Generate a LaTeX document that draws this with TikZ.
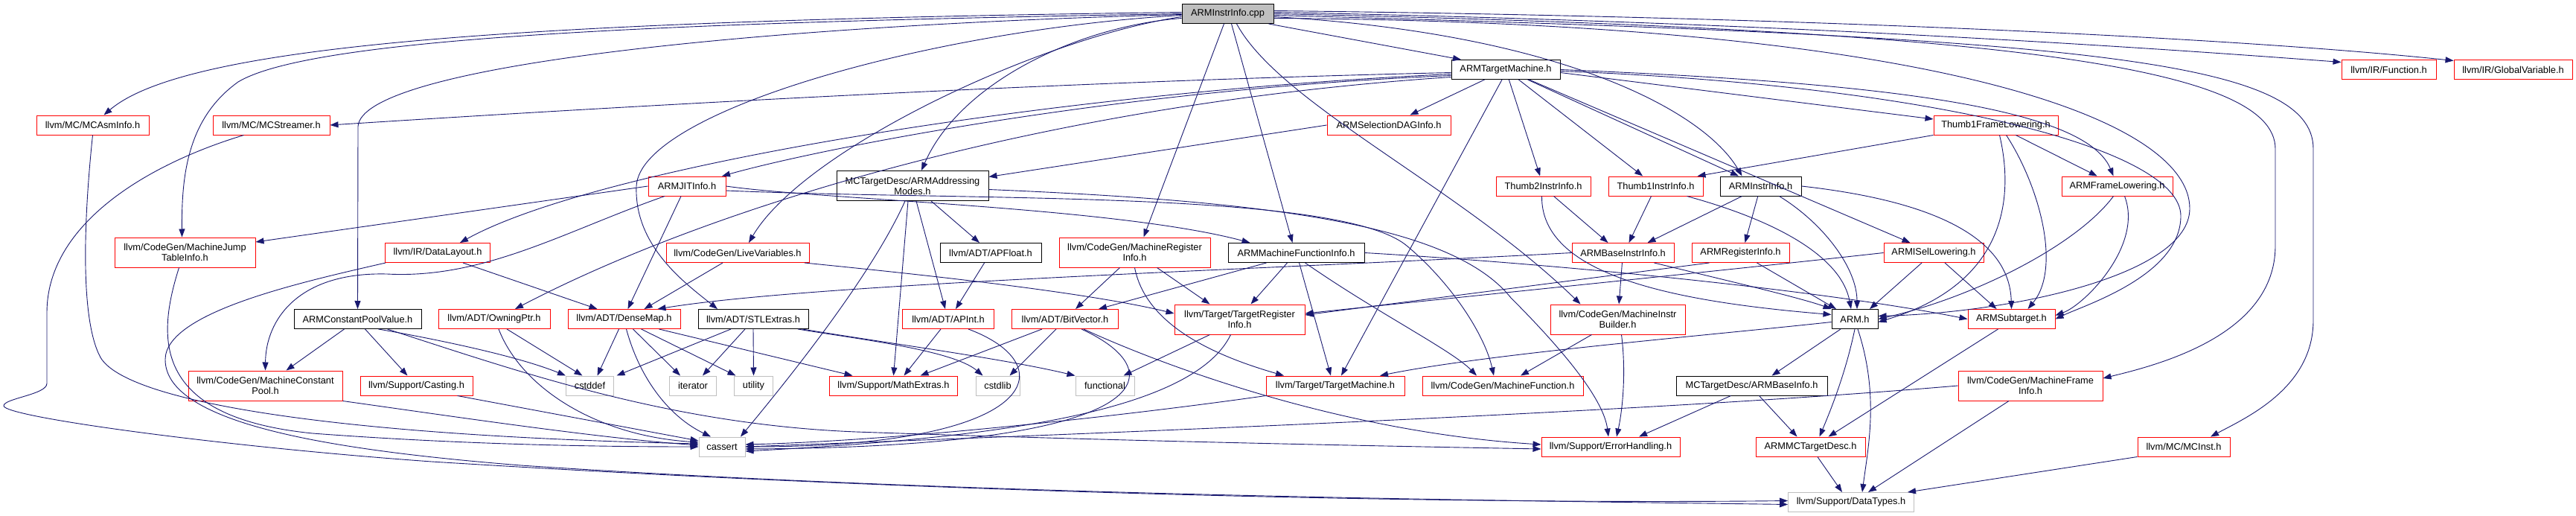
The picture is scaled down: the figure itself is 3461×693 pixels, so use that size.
\documentclass[tikz,border=0pt]{standalone}
\usepackage{fontspec}
\setmainfont{Liberation Sans}
\usetikzlibrary{arrows.meta}
\definecolor{edgeblue}{HTML}{191970}
\definecolor{sysgray}{HTML}{BFBFBF}
\definecolor{rootgray}{HTML}{BFBFBF}
\tikzset{
 nd/.style={rectangle, inner sep=0pt, line width=1pt, align=center, font=\fontsize{12.8}{14}\selectfont, minimum height=26},
 rednd/.style={nd, draw=red},
 blk/.style={nd, draw=black},
 sys/.style={nd, draw=sysgray},
 rootnd/.style={nd, draw=black, fill=rootgray},
 tall/.style={minimum height=40},
 e/.style={draw=edgeblue, line width=0.9pt, -{Triangle[length=11pt,width=8pt]}},
}
\begin{document}
\begin{tikzpicture}[x=1pt,y=-1pt]
\useasboundingbox[fill=white] (0,0) rectangle (3461,693);
% ---------- nodes ----------
\node[rootnd, minimum width=123] (cpp) at (1649.5,18.5) {ARMInstrInfo.cpp};
\node[blk, minimum width=146] (atm) at (2023,93.5) {ARMTargetMachine.h};
\node[rednd, minimum width=127] (fun) at (3209.5,93.5) {llvm/IR/Function.h};
\node[rednd, minimum width=159] (gv) at (3376.5,93.5) {llvm/IR/GlobalVariable.h};
\node[rednd, minimum width=151] (mcasm) at (124.5,168) {llvm/MC/MCAsmInfo.h};
\node[rednd, minimum width=157] (mcstr) at (364.5,168) {llvm/MC/MCStreamer.h};
\node[rednd, minimum width=166] (sdag) at (1866,168) {ARMSelectionDAGInfo.h};
\node[rednd, minimum width=167] (t1fl) at (2681.5,168) {Thumb1FrameLowering.h};
\node[rednd, minimum width=104] (jit) at (923,250) {ARMJITInfo.h};
\node[blk, tall, minimum width=204] (am) at (1226,249.5) {MCTargetDesc/ARMAddressing\\Modes.h};
\node[rednd, minimum width=127] (t2ii) at (2073.5,250) {Thumb2InstrInfo.h};
\node[rednd, minimum width=127] (t1ii) at (2224.5,250) {Thumb1InstrInfo.h};
\node[blk, minimum width=109] (aii) at (2365.5,250) {ARMInstrInfo.h};
\node[rednd, minimum width=149] (afl) at (2844.5,250) {ARMFrameLowering.h};
\node[rednd, tall, minimum width=189] (mjti) at (248.5,339) {llvm/CodeGen/MachineJump\\TableInfo.h};
\node[rednd, minimum width=141] (dl) at (588,339.5) {llvm/IR/DataLayout.h};
\node[rednd, minimum width=192] (lv) at (991,339.5) {llvm/CodeGen/LiveVariables.h};
\node[blk, minimum width=136] (apf) at (1331,339.5) {llvm/ADT/APFloat.h};
\node[rednd, tall, minimum width=203] (mri) at (1524.5,339) {llvm/CodeGen/MachineRegister\\Info.h};
\node[blk, minimum width=183] (amfi) at (1741.5,339.5) {ARMMachineFunctionInfo.h};
\node[rednd, minimum width=137] (abii) at (2180.5,339.5) {ARMBaseInstrInfo.h};
\node[rednd, minimum width=131] (ari) at (2338.5,339.5) {ARMRegisterInfo.h};
\node[rednd, minimum width=134] (aisl) at (2598,339.5) {ARMISelLowering.h};
\node[blk, minimum width=171] (acpv) at (480.5,428.5) {ARMConstantPoolValue.h};
\node[rednd, minimum width=150] (own) at (664,428.5) {llvm/ADT/OwningPtr.h};
\node[rednd, minimum width=151] (dm) at (838.5,428.5) {llvm/ADT/DenseMap.h};
\node[blk, minimum width=148] (stl) at (1012,428.5) {llvm/ADT/STLExtras.h};
\node[rednd, minimum width=123] (apint) at (1274,428.5) {llvm/ADT/APInt.h};
\node[rednd, minimum width=143] (bv) at (1431,428.5) {llvm/ADT/BitVector.h};
\node[rednd, tall, minimum width=175] (tri) at (1665.5,429) {llvm/Target/TargetRegister\\Info.h};
\node[rednd, tall, minimum width=181] (mib) at (2173.5,429) {llvm/CodeGen/MachineInstr\\Builder.h};
\node[blk, minimum width=62] (armh) at (2492,428.5) {ARM.h};
\node[rednd, minimum width=117] (ast) at (2702.5,428.5) {ARMSubtarget.h};
\node[rednd, tall, minimum width=207] (mcp) at (356.5,518) {llvm/CodeGen/MachineConstant\\Pool.h};
\node[rednd, minimum width=151] (cast) at (559.5,518) {llvm/Support/Casting.h};
\node[sys, minimum width=64] (cstddef) at (792.5,518) {cstddef};
\node[sys, minimum width=63] (iter) at (931,518) {iterator};
\node[sys, minimum width=52] (util) at (1012.5,518) {utility};
\node[rednd, minimum width=172] (mathx) at (1200.5,518) {llvm/Support/MathExtras.h};
\node[sys, minimum width=59] (cstdlib) at (1340.5,518) {cstdlib};
\node[sys, minimum width=79] (func) at (1484.5,518) {functional};
\node[rednd, minimum width=186] (tm) at (1794,518) {llvm/Target/TargetMachine.h};
\node[rednd, minimum width=216] (mf) at (2019,518) {llvm/CodeGen/MachineFunction.h};
\node[blk, minimum width=203] (abi) at (2353.5,518) {MCTargetDesc/ARMBaseInfo.h};
\node[rednd, tall, minimum width=194] (mfi) at (2728,518) {llvm/CodeGen/MachineFrame\\Info.h};
\node[sys, minimum width=62] (cassert) at (970,600) {cassert};
\node[rednd, minimum width=186] (eh) at (2164,600) {llvm/Support/ErrorHandling.h};
\node[rednd, minimum width=147] (amcd) at (2432.5,600) {ARMMCTargetDesc.h};
\node[rednd, minimum width=124] (mcinst) at (2934,600) {llvm/MC/MCInst.h};
\node[sys, minimum width=169] (dt) at (2487,674.5) {llvm/Support/DataTypes.h};
% ---------- edges from ARMInstrInfo.cpp ----------
\draw[e] ([yshift=2pt]cpp.west) .. controls (700,28) and (250,60) .. ([xshift=15pt]mcasm.north);
\draw[e] (cpp.west) .. controls (900,30) and (420,50) .. (320,110) .. controls (250,160) and (244,240) .. ([xshift=-4pt]mjti.north);
\draw[e] ([yshift=-1pt]cpp.west) .. controls (1000,35) and (485,90) .. (481,170) -- (acpv.north);
\draw[e] ([yshift=-4pt]cpp.west) .. controls (1400,50) and (1080,200) .. ([xshift=15pt]lv.north);
\draw[e] ([yshift=-2pt]cpp.west) .. controls (1250,40) and (860,150) .. (855,250) .. controls (852,330) and (920,380) .. ([xshift=-48pt]stl.north);
\draw[e] ([yshift=-6pt]cpp.west) .. controls (1450,35) and (1290,110) .. ([xshift=12pt]am.north);
\draw[e] ([xshift=-5pt]cpp.south) -- ([xshift=12pt]mri.north);
\draw[e] ([xshift=5pt]cpp.south) -- ([xshift=-5pt]amfi.north);
\draw[e] ([xshift=55pt]cpp.south) -- ([xshift=-60pt]atm.north);
\draw[e] ([xshift=12pt]cpp.south) .. controls (1720,140) and (1960,250) .. ([xshift=-50pt]mib.north);
\draw[e] ([yshift=-4pt]cpp.east) .. controls (2100,45) and (2290,150) .. ([xshift=-25pt]aii.north);
\draw[e] ([yshift=2pt]cpp.east) .. controls (2400,30) and (2900,65) .. ([yshift=10pt]fun.west);
\draw[e] ([yshift=4pt]cpp.east) .. controls (2400,22) and (3000,50) .. ([yshift=12pt]gv.west);
\draw[e] (cpp.east) .. controls (2700,40) and (3057,90) .. (3057,200) -- (3057,330) .. controls (3057,450) and (2900,490) .. ([yshift=10pt]mfi.east);
\draw[e] ([yshift=-2pt]cpp.east) .. controls (2800,50) and (3108,80) .. (3108,200) -- (3108,430) .. controls (3108,520) and (3020,560) .. ([xshift=36pt]mcinst.north);
\draw[e] ([yshift=-6pt]cpp.east) .. controls (2600,30) and (2942,160) .. (2942,280) .. controls (2942,370) and (2700,420) .. ([yshift=4pt]armh.east);
% ---------- ARMTargetMachine.h ----------
\draw[e] ([yshift=-4pt]atm.west) .. controls (1400,110) and (800,145) .. (mcstr.east);
\draw[e] ([yshift=-8pt]atm.west) .. controls (1500,120) and (1100,200) .. ([xshift=47pt]jit.north);
\draw[e] ([yshift=-6pt]atm.west) .. controls (1400,125) and (800,225) .. ([xshift=30pt]dl.north);
\draw[e] ([yshift=-10pt]atm.west) .. controls (1400,140) and (950,280) .. ([xshift=28pt]own.north);
\draw[e] ([xshift=-5pt]atm.south) -- ([xshift=8pt]tm.north);
\draw[e] (atm) -- (sdag);
\draw[e] (atm) -- (t2ii);
\draw[e] (atm) -- (t1ii);
\draw[e] (atm) -- (aii);
\draw[e] (atm) -- (aisl);
\draw[e] ([yshift=-4pt]atm.east) -- ([yshift=8pt]t1fl.west);
\draw[e] (atm.east) .. controls (2500,110) and (2800,140) .. ([xshift=-5pt]afl.north);
\draw[e] ([yshift=-2pt]atm.east) .. controls (2600,115) and (2930,200) .. (2930,290) .. controls (2930,370) and (2800,410) .. (ast.east);
% ---------- level 2 ----------
\draw[e] (sdag.west) -- ([yshift=12pt]am.east);
\draw[e] (t1fl.south west) -- ([xshift=-8pt]t1ii.north east);
\draw[e] (t1fl) -- (afl);
\draw[e] ([xshift=5pt]t1fl.south) .. controls (2705,260) and (2700,380) .. ([yshift=-4pt]armh.east);
\draw[e] ([xshift=14pt]t1fl.south) .. controls (2740,250) and (2770,360) .. ([xshift=22pt]ast.north);
\draw[e] ([xshift=-5pt]afl.south) .. controls (2790,330) and (2650,400) .. (armh.east);
\draw[e] ([xshift=10pt]afl.south) .. controls (2880,330) and (2800,410) .. ([yshift=5pt]ast.east);
% ARMJITInfo.h
\draw[e] (jit.west) -- ([yshift=14pt]mjti.east);
\draw[e] ([xshift=-30pt]jit.south) .. controls (760,310) and (650,375) .. (520,368) .. controls (400,365) and (357,430) .. (mcp.north);
\draw[e] ([xshift=-8pt]jit.south) -- ([xshift=5pt]dm.north);
\draw[e] (jit.east) .. controls (1100,268) and (1500,278) .. ([xshift=-62pt]amfi.north);
\draw[e] ([yshift=-6pt]jit.east) .. controls (1300,270) and (1800,255) .. (1890,330) .. controls (1950,380) and (1995,450) .. ([xshift=-12pt]mf.north);
% ARMAddressingModes.h
\draw[e] ([xshift=-10pt]am.south) .. controls (1180,350) and (1100,460) .. ([xshift=25pt]cassert.north);
\draw[e] ([xshift=-6pt]am.south) -- (mathx.north);
\draw[e] ([xshift=5pt]am.south) -- ([xshift=-4pt]apint.north);
\draw[e] ([xshift=25pt]am.south) -- ([xshift=-15pt]apf.north);
\draw[e] ([yshift=-5pt]am.east) .. controls (1700,270) and (1950,300) .. (2030,400) .. controls (2110,480) and (2155,540) .. ([xshift=-3pt]eh.north);
% APFloat / APInt / BitVector
\draw[e] (apf) -- ([xshift=10pt]apint.north);
\draw[e] ([xshift=-10pt]apint.south) -- ([xshift=14pt]mathx.north);
\draw[e] ([xshift=27pt]apint.south) .. controls (1430,490) and (1400,600) .. (cassert.east);
\draw[e] ([xshift=-31pt]bv.south) -- ([xshift=36pt]mathx.north);
\draw[e] ([xshift=-12pt]bv.south) -- ([xshift=16pt]cstdlib.north);
\draw[e] ([xshift=22pt]bv.south) .. controls (1580,500) and (1560,600) .. ([yshift=-3pt]cassert.east);
\draw[e] ([xshift=25pt]bv.south) .. controls (1560,490) and (1800,580) .. ([yshift=3pt]eh.west);
% MachineRegisterInfo.h
\draw[e] ([xshift=-20pt]mri.south) -- ([xshift=14pt]bv.north);
\draw[e] ([xshift=30pt]mri.south) -- ([xshift=-40pt]tri.north);
\draw[e] (mri.south) .. controls (1540,440) and (1640,480) .. ([xshift=-69pt]tm.north);
% ARMMachineFunctionInfo.h
\draw[e] ([xshift=-40pt]amfi.south) -- ([xshift=45pt]bv.north);
\draw[e] ([xshift=-12pt]amfi.south) -- ([xshift=15pt]tri.north);
\draw[e] ([xshift=4pt]amfi.south) -- ([xshift=-6pt]tm.north);
\draw[e] ([xshift=12pt]amfi.south) .. controls (1850,420) and (1950,470) .. ([xshift=-35pt]mf.north);
\draw[e] (amfi.east) .. controls (2100,355) and (2450,390) .. (ast.west);
% LiveVariables.h / DataLayout.h / MCStreamer.h
\draw[e] ([xshift=-20pt]lv.south) -- ([xshift=27pt]dm.north);
\draw[e] ([xshift=90pt]lv.south) .. controls (1200,365) and (1450,390) .. ([yshift=8pt]tri.west);
\draw[e] ([xshift=34pt]dl.south) -- ([xshift=-36pt]dm.north);
\draw[e] ([xshift=-70pt]dl.south) .. controls (400,380) and (222,420) .. (222,483) .. controls (222,570) and (450,605) .. (700,625) .. controls (1300,665) and (2000,672) .. ([yshift=-3pt]dt.west);
\draw[e] ([xshift=-37pt]mcstr.south) .. controls (200,220) and (63,300) .. (63,420) -- (63,515) .. controls (63,530) and (5,535) .. (5,545) .. controls (5,560) and (300,600) .. (580,620) .. controls (1300,665) and (2000,677) .. ([yshift=2pt]dt.west);
% into cassert from the left
\draw[e] (mcasm.south) .. controls (112,300) and (108,430) .. (135,480) .. controls (170,540) and (450,585) .. ([yshift=4pt]cassert.west);
\draw[e] ([xshift=-8pt]mjti.south) .. controls (212,450) and (200,560) .. (420,582) .. controls (620,597) and (800,600) .. (cassert.west);
\draw[e] (mcp.south east) .. controls (600,558) and (800,588) .. ([yshift=2pt]cassert.west);
\draw[e] ([xshift=55pt]cast.south) -- ([yshift=8pt]cassert.west);
\draw[e] ([xshift=6pt]own.south) .. controls (700,520) and (800,585) .. ([yshift=6pt]cassert.west);
\draw[e] ([xshift=17pt]own.south) -- ([xshift=-10pt]cstddef.north);
% ARMConstantPoolValue.h
\draw[e] ([xshift=-18pt]acpv.south) -- ([xshift=28pt]mcp.north);
\draw[e] ([xshift=10pt]acpv.south) -- ([xshift=-12pt]cast.north);
\draw[e] ([xshift=28pt]acpv.south) .. controls (600,458) and (700,480) .. (cstddef.north west);
\draw[e] ([xshift=40pt]acpv.south) .. controls (700,500) and (900,570) .. (1150,580) .. controls (1500,592) and (1800,598) .. ([yshift=-3pt]eh.west);
% DenseMap.h
\draw[e] ([xshift=-7pt]dm.south) -- ([xshift=10pt]cstddef.north);
\draw[e] ([xshift=3pt]dm.south) .. controls (860,510) and (900,560) .. ([xshift=-15pt]cassert.north);
\draw[e] ([xshift=12pt]dm.south) -- ([xshift=-17pt]iter.north);
\draw[e] ([xshift=23pt]dm.south) -- ([xshift=-24pt]util.north);
\draw[e] ([xshift=47pt]dm.south) -- ([xshift=-55pt]mathx.north);
% STLExtras.h
\draw[e] ([xshift=-30pt]stl.south) -- ([xshift=36pt]cstddef.north);
\draw[e] ([xshift=-11pt]stl.south) -- ([xshift=13pt]iter.north);
\draw[e] (stl.south) -- (util.north);
\draw[e] ([xshift=60pt]stl.south) .. controls (1150,455) and (1280,470) .. ([xshift=-20pt]cstdlib.north);
\draw[e] ([xshift=66pt]stl.south) .. controls (1200,462) and (1350,482) .. (func.north west);
% TargetRegisterInfo.h / TargetMachine.h
\draw[e] ([xshift=-40pt]tri.south) -- ([xshift=25pt]func.north);
\draw[e] ([xshift=-12pt]tri.south) .. controls (1600,560) and (1300,590) .. ([yshift=-6pt]cassert.east);
\draw[e] (tm.south west) .. controls (1500,560) and (1200,592) .. ([yshift=3pt]cassert.east);
% MachineInstrBuilder.h
\draw[e] ([xshift=-35pt]mib.south) -- ([xshift=24pt]mf.north);
\draw[e] ([xshift=5pt]mib.south) .. controls (2185,500) and (2180,550) .. ([xshift=8pt]eh.north);
% ARMBaseInstrInfo.h
\draw[e] (abii) -- (mib);
\draw[e] (abii.west) .. controls (1700,362) and (1100,380) .. ([xshift=45pt]dm.north);
\draw[e] ([xshift=42pt]abii.south) .. controls (2300,372) and (2420,400) .. (armh.north west);
% Thumb2 / Thumb1 / ARMInstrInfo.h
\draw[e] ([xshift=-2pt]t2ii.south) .. controls (2070,370) and (2250,405) .. ([yshift=6pt]armh.west);
\draw[e] ([xshift=14pt]t2ii.south) -- ([xshift=-20pt]abii.north);
\draw[e] ([xshift=-6pt]t1ii.south) -- ([xshift=8pt]abii.north);
\draw[e] ([xshift=42pt]t1ii.south) .. controls (2400,300) and (2475,350) .. ([xshift=-5pt]armh.north);
\draw[e] ([xshift=25pt]aii.south) .. controls (2450,300) and (2495,360) .. ([xshift=3pt]armh.north);
\draw[e] ([xshift=-25pt]aii.south) -- ([xshift=33pt]abii.north);
\draw[e] (aii) -- ([xshift=6pt]ari.north);
\draw[e] (aii.east) .. controls (2600,270) and (2700,320) .. (ast.north);
% ARMRegisterInfo.h / ARMISelLowering.h
\draw[e] ([xshift=22pt]ari.south) -- ([xshift=-25pt]armh.north);
\draw[e] ([xshift=-42pt]ari.south) -- ([yshift=6pt]tri.east);
\draw[e] (aisl.west) .. controls (2300,365) and (2000,395) .. ([yshift=8pt]tri.east);
\draw[e] ([xshift=-16pt]aisl.south) -- ([xshift=20pt]armh.north);
\draw[e] ([xshift=15pt]aisl.south) -- ([xshift=-20pt]ast.north);
% ARM.h
\draw[e] ([xshift=-19pt]armh.south) -- ([xshift=27pt]abi.north);
\draw[e] (armh.south) .. controls (2480,500) and (2460,550) .. ([xshift=12pt]amcd.north);
\draw[e] ([xshift=4pt]armh.south) .. controls (2525,530) and (2510,600) .. ([xshift=15pt]dt.north);
\draw[e] ([yshift=-4pt]armh.west) .. controls (2300,450) and (2000,475) .. ([xshift=60pt]tm.north);
% lower level
\draw[e] ([xshift=-18pt]ast.south) -- ([xshift=24pt]amcd.north);
\draw[e] ([xshift=10pt]abi.south) -- ([xshift=-18pt]amcd.north);
\draw[e] ([xshift=-28pt]abi.south) -- ([xshift=38pt]eh.north);
\draw[e] (amcd) -- ([xshift=-12pt]dt.north);
\draw[e] ([xshift=-29pt]mfi.south) -- ([xshift=23pt]dt.north);
\draw[e] (mfi.west) .. controls (2200,555) and (1400,585) .. (cassert.east);
\draw[e] (mcinst.south west) -- ([xshift=76pt]dt.north);
\end{tikzpicture}
\end{document}
